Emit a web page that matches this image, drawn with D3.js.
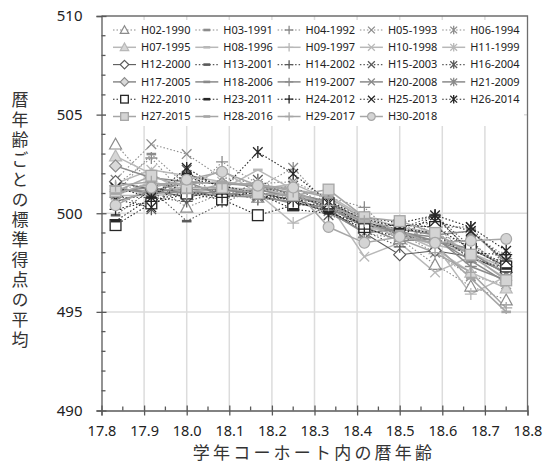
<!DOCTYPE html>
<html><head><meta charset="utf-8">
<script src="https://cdn.jsdelivr.net/npm/d3@7"></script>
<style>body{margin:0;background:#fff}svg{display:block}</style>
</head><body>
<svg id="c" width="555" height="469"></svg>
<script>
// ---------- data ----------
const ages = [17.833,17.917,18.0,18.083,18.167,18.25,18.333,18.417,18.5,18.583,18.667,18.75];
const xTicks = [17.8,17.9,18.0,18.1,18.2,18.3,18.4,18.5,18.6,18.7,18.8];
const yTicks = [490,495,500,505,510];
const seriesNames = ["H02-1990","H03-1991","H04-1992","H05-1993","H06-1994",
  "H07-1995","H08-1996","H09-1997","H10-1998","H11-1999",
  "H12-2000","H13-2001","H14-2002","H15-2003","H16-2004",
  "H17-2005","H18-2006","H19-2007","H20-2008","H21-2009",
  "H22-2010","H23-2011","H24-2012","H25-2013","H26-2014",
  "H27-2015","H28-2016","H29-2017","H30-2018"];
const H02 = [503.5,501.5,500.3,501.0,500.8,501.0,500.5,499.0,498.7,497.4,496.3,495.6];
const H03 = [501.0,503.0,501.4,501.1,501.2,500.9,500.5,499.6,499.4,498.9,498.5,497.1];
const H04 = [501.4,502.8,500.8,502.6,501.5,500.6,500.8,500.3,498.6,499.5,497.5,497.7];
const H05 = [501.7,503.5,503.0,501.8,501.5,501.6,500.8,499.4,499.0,498.0,496.8,496.4];
const H06 = [501.2,501.5,501.2,500.8,501.3,502.3,500.4,499.6,498.8,499.1,499.0,497.8];
const H07 = [502.9,502.0,501.0,501.3,501.2,500.9,500.6,499.3,499.0,498.2,497.0,496.2];
const H08 = [500.9,501.6,501.2,501.2,502.2,501.2,500.9,499.8,499.3,499.0,498.0,497.0];
const H09 = [501.2,501.0,501.4,502.2,501.0,499.5,500.4,499.5,498.9,498.4,495.9,496.8];
const H10 = [501.5,502.2,501.9,501.6,501.3,500.9,500.5,497.8,498.5,497.0,497.8,496.7];
const H11 = [500.9,500.9,501.0,501.1,501.2,501.5,500.7,499.3,499.0,498.4,498.0,497.2];
const H12 = [501.6,501.2,500.8,501.2,501.0,500.7,500.2,499.0,497.9,498.1,497.8,497.0];
const H13 = [499.9,501.2,499.6,500.5,501.3,501.0,500.2,499.4,499.2,499.9,498.3,497.4];
const H14 = [500.8,500.8,500.6,501.1,500.7,500.8,500.0,499.1,498.3,499.8,498.1,497.5];
const H15 = [501.0,501.4,501.5,501.0,501.1,501.4,500.3,499.6,498.9,498.6,498.6,497.0];
const H16 = [501.0,500.2,502.2,500.6,501.7,500.8,499.9,499.4,499.4,499.3,499.3,497.3];
const H17 = [502.4,501.8,501.6,501.5,501.4,501.0,500.6,499.6,499.0,498.6,498.2,497.3];
const H18 = [501.3,501.0,501.1,501.0,500.9,500.5,500.3,499.3,498.6,498.7,497.6,496.5];
const H19 = [501.1,501.3,501.0,500.9,501.2,500.8,500.5,499.5,499.0,498.8,497.3,496.6];
const H20 = [501.2,501.1,501.2,501.2,501.0,500.9,500.3,499.4,499.1,498.6,498.0,496.9];
const H21 = [500.6,501.1,501.6,500.9,500.8,500.6,500.1,499.0,499.2,498.9,499.1,497.5];
const H22 = [499.4,500.5,501.0,500.7,499.9,500.4,500.5,499.3,499.4,499.3,498.2,497.3];
const H23 = [499.6,500.8,502.0,501.4,501.0,500.2,500.0,499.5,499.2,499.0,497.7,497.2];
const H24 = [500.2,500.6,501.1,500.8,501.1,500.6,500.1,499.2,498.8,499.9,498.0,497.9];
const H25 = [500.7,500.3,501.8,501.4,500.9,500.7,500.5,499.7,499.3,499.6,499.1,497.6];
const H26 = [501.3,500.8,502.3,501.2,503.1,502.0,500.6,499.8,499.5,499.9,499.3,498.1];
const H27 = [501.1,501.9,501.3,501.3,501.0,500.9,501.2,499.8,499.6,499.0,497.9,496.6];
const H28 = [501.0,501.5,501.5,501.6,501.4,501.2,500.8,499.7,499.1,498.4,496.7,495.0];
const H29 = [501.4,501.6,501.0,501.5,501.5,501.1,500.4,499.6,498.7,498.0,497.0,495.2];
const H30 = [500.4,501.3,501.7,502.1,501.4,501.3,499.3,498.5,498.8,498.5,498.6,498.7];
const seriesValues = [H02,H03,H04,H05,H06,H07,H08,H09,H10,H11,H12,H13,H14,H15,H16,
  H17,H18,H19,H20,H21,H22,H23,H24,H25,H26,H27,H28,H29,H30];

// ---------- styles ----------
const markerTypes = ["tri","dash","plus","x","star","tri","dash","plus","x","star",
  "dia","dash","plus","x","star","dia","dash","plus","x","star",
  "sq","dash","plus","x","star","sq","dash","plus","circ"];
const rowStroke = ["#8c8c8c","#b8b8b8","#5a5a5a","#8a8a8a","#262626","#a6a6a6"];
const rowFill   = ["#ffffff","#d6d6d6","#ffffff","#d9d9d9","#ffffff","#d4d4d4"];
const rowDash   = ["1.5,2","none","1.5,2","none","1.5,2","none"];
const rowWidth  = [1.1,1.5,1.1,1.5,1.1,1.5];
function styleOf(i){
  const r = Math.floor(i/5);
  let dash = rowDash[r];
  if (i === 10) dash = "none"; // H12 solid
  return {stroke:rowStroke[r], fill:rowFill[r], dash, width:rowWidth[r]};
}

// ---------- chart ----------
const svg = d3.select("#c");
const x = d3.scaleLinear().domain([17.8,18.8]).range([101.5,527.5]);
const y = d3.scaleLinear().domain([490,510]).range([410.5,16]);
const axisColor = "#595959";

svg.append("g").selectAll("line").data(xTicks.slice(1,-1)).join("line")
  .attr("x1",d=>x(d)).attr("x2",d=>x(d)).attr("y1",y(510)).attr("y2",y(490))
  .attr("stroke","#dcdcdc").attr("stroke-width",1.5);
svg.append("g").selectAll("line").data(yTicks.slice(1,-1)).join("line")
  .attr("x1",x(17.8)).attr("x2",x(18.8)).attr("y1",d=>y(d)).attr("y2",d=>y(d))
  .attr("stroke","#dcdcdc").attr("stroke-width",1.5);

svg.append("path").attr("d",`M${x(17.8)},${y(510)}H${x(18.8)}V${y(490)}`)
  .attr("fill","none").attr("stroke","#6e6e6e").attr("stroke-width",1.3);

function marker(g, type, size, st){
  const s = size/2;
  if (type==="tri"){
    g.append("path").attr("d",`M0,${-s}L${s},${s*0.8}L${-s},${s*0.8}Z`)
      .attr("fill",st.fill).attr("stroke",st.stroke).attr("stroke-width",1.2);
  } else if (type==="sq"){
    g.append("rect").attr("x",-s*0.9).attr("y",-s*0.9).attr("width",s*1.8).attr("height",s*1.8)
      .attr("fill",st.fill).attr("stroke",st.stroke).attr("stroke-width",1.3);
  } else if (type==="dia"){
    g.append("path").attr("d",`M0,${-s}L${s},0L0,${s}L${-s},0Z`)
      .attr("fill",st.fill).attr("stroke",st.stroke).attr("stroke-width",1.2);
  } else if (type==="circ"){
    g.append("circle").attr("r",s*0.9).attr("fill",st.fill).attr("stroke",st.stroke).attr("stroke-width",1.2);
  } else if (type==="dash"){
    g.append("rect").attr("x",-s*0.8).attr("y",-1.3).attr("width",s*1.6).attr("height",2.6)
      .attr("fill",st.stroke);
  } else if (type==="plus"){
    g.append("path").attr("d",`M${-s},0H${s}M0,${-s}V${s}`).attr("stroke",st.stroke).attr("stroke-width",1.3);
  } else if (type==="x"){
    const a=s*0.8;
    g.append("path").attr("d",`M${-a},${-a}L${a},${a}M${-a},${a}L${a},${-a}`).attr("stroke",st.stroke).attr("stroke-width",1.3);
  } else if (type==="star"){
    const a=s*0.8;
    g.append("path").attr("d",`M${-a},${-a}L${a},${a}M${-a},${a}L${a},${-a}M0,${-s}V${s}`).attr("stroke",st.stroke).attr("stroke-width",1.3);
  }
}

const line = d3.line().x((d,i)=>x(ages[i])).y(d=>y(d));
const gl = svg.append("g");
seriesValues.forEach((vals,i)=>{
  const st = styleOf(i);
  gl.append("path").attr("d",line(vals)).attr("fill","none")
    .attr("stroke",st.stroke).attr("stroke-width",st.width)
    .attr("stroke-dasharray",st.dash==="none"?null:st.dash);
});
const gm = svg.append("g");
seriesValues.forEach((vals,i)=>{
  const st = styleOf(i);
  vals.forEach((v,k)=>{
    const g = gm.append("g").attr("transform",`translate(${x(ages[k])},${y(v)})`);
    marker(g, markerTypes[i], 12, st);
  });
});

// axes
const yAxis = d3.axisLeft(y).tickValues(yTicks).tickSize(5).tickPadding(14).tickFormat(d3.format("d"));
const gy = svg.append("g").attr("transform",`translate(${x(17.8)},0)`).call(yAxis);
gy.selectAll(".tick line").attr("x2",-5).attr("x1",5);
const yMinor = d3.range(491,510).filter(d=>d%5!==0);
gy.append("g").selectAll("line").data(yMinor).join("line")
  .attr("x1",0).attr("x2",4).attr("y1",d=>y(d)).attr("y2",d=>y(d)).attr("stroke",axisColor);

const xa = d3.axisBottom(x).tickValues(xTicks).tickSize(5).tickPadding(10).tickFormat(d3.format(".1f"));
const gx = svg.append("g").attr("transform",`translate(0,${y(490)})`).call(xa);
gx.selectAll(".tick line").attr("y1",-5).attr("y2",5);
const xMinor = d3.range(0,10).map(i=>17.85+i*0.1);
gx.append("g").selectAll("line").data(xMinor).join("line")
  .attr("x1",d=>x(d)).attr("x2",d=>x(d)).attr("y1",0).attr("y2",-4).attr("stroke",axisColor);

[gx,gy].forEach(g=>{
  g.selectAll("path.domain,line").attr("stroke",axisColor).attr("stroke-width",1.3);
});
gx.selectAll("text").attr("fill","#222").style("font-family","'Noto Sans',sans-serif").style("font-size","14.5px");
gy.selectAll("text").attr("fill","#222").style("font-family","'Noto Sans',sans-serif").style("font-size","15px");

// legend
const lg = svg.append("g");
lg.append("rect").attr("x",106).attr("y",20).attr("width",418).attr("height",106).attr("fill","#fff");
seriesNames.forEach((name,i)=>{
  const r = Math.floor(i/5), c = i%5;
  const tx = 141 + c*82.3, ty = 30 + r*17.3;
  const st = styleOf(i);
  lg.append("line").attr("x1",tx-28).attr("x2",tx-5).attr("y1",ty).attr("y2",ty)
    .attr("stroke",st.stroke).attr("stroke-width",st.width)
    .attr("stroke-dasharray",st.dash==="none"?null:st.dash);
  const g = lg.append("g").attr("transform",`translate(${tx-16.5},${ty})`);
  marker(g, markerTypes[i], 8.5, st);
  lg.append("text").attr("x",tx).attr("y",ty).attr("dy","0.35em")
    .attr("fill","#222").style("font-family","'Noto Sans',sans-serif").style("font-size","11px")
    .text(name);
});

// axis titles
svg.append("text").attr("x",314).attr("y",459).attr("text-anchor","middle")
  .attr("fill","#333").style("font-family","'Noto Sans CJK JP',sans-serif").style("font-size","17px")
  .style("letter-spacing","3.2px").text("学年コーホート内の暦年齢");
svg.append("text").attr("x",20).attr("y",221).attr("text-anchor","middle")
  .attr("fill","#333").style("font-family","'Noto Sans CJK JP',sans-serif").style("font-size","17px")
  .style("writing-mode","vertical-rl").style("letter-spacing","3px")
  .text("暦年齢ごとの標準得点の平均");
</script>
</body></html>
